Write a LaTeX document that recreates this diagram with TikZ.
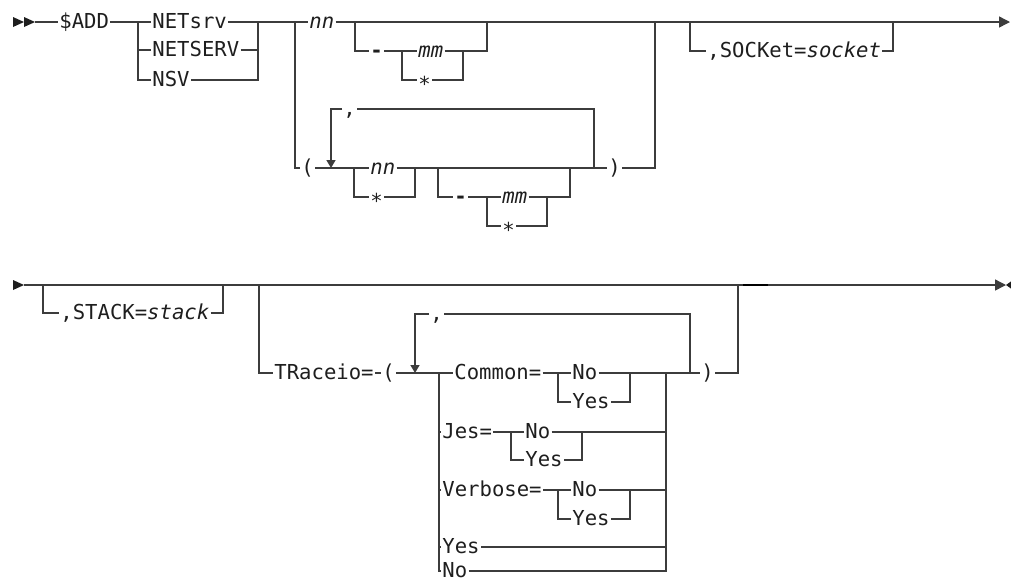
\documentclass[tikz,border=0pt]{standalone}
\usepackage{fontspec}
\setmonofont{DejaVu Sans Mono}
\usetikzlibrary{arrows.meta}
\definecolor{railGray}{HTML}{3C3C3C}
\definecolor{railText}{HTML}{1E1E1E}
\newcommand{\railfont}{\ttfamily\fontsize{10.3pt}{12pt}\selectfont}
\newcommand{\railstar}{\raisebox{-2.6pt}{*}}
\tikzset{
  rail/.style={draw=railGray, line width=0.7pt},
  railArrow/.style={rail, -{Triangle[length=4pt, width=4.5pt]}},
  railEnd/.style={rail, -{Triangle[length=5.5pt, width=5.5pt]}},
  kw/.style={anchor=west, font=\railfont, text=railText, inner xsep=0.5pt,
             inner ysep=0pt, text height=6pt, text depth=0pt},
  var/.style={kw, font=\railfont\itshape},
}

\begin{document}
\begin{tikzpicture}[x=0.5pt, y=-0.5pt]
  \useasboundingbox (0,0) rectangle (1011,580);

  % first line: $ADD NETsrv ... ,SOCKet=
  \fill[railText] (13,17) -- (24,22) -- (13,27) -- cycle;
  \fill[railText] (24,17) -- (35,22) -- (24,27) -- cycle;
  \node[kw] (add) at (58,22) {\$ADD};
  \node[kw] (netsrv) at (151,22) {NETsrv};
  \node[kw] (netserv) at (151,50) {NETSERV};
  \node[kw] (nsv) at (151,80) {NSV};
  \node[var] (nn) at (308,22) {nn};
  \node[kw] (dash) at (369,51) {\textbf{-}};
  \node[var] (mm) at (417,51) {mm};
  \node[kw] (star) at (417,80) {\railstar};
  \node[kw] (lparen) at (300,168) {(};
  \node[kw] (comma) at (342,109) {,};
  \node[var] (nnb) at (369,168) {nn};
  \node[kw] (starb) at (369,197) {\railstar};
  \node[kw] (dashb) at (453,197) {\textbf{-}};
  \node[var] (mmb) at (501,197) {mm};
  \node[kw] (starc) at (501,226) {\railstar};
  \node[kw] (rparen) at (607,168) {)};
  \node[kw] (socket) at (706,51) {,SOCKet=\textit{socket}};

  \draw[rail] (35,22) -- (add.west);
  \draw[rail] (add.east) -- (netsrv.west);
  \draw[rail] (138,22) |- (nsv.west);
  \draw[rail] (138,50) -- (netserv.west);
  \draw[rail] (netserv.east) -| (258,22);
  \draw[rail] (nsv.east) -| (258,50);
  \draw[rail] (netsrv.east) -- (nn.west);
  \draw[railEnd] (nn.east) -- (1010,22);
  \draw[rail] (355,22) |- (dash.west);
  \draw[rail] (dash.east) -- (mm.west);
  \draw[rail] (402,51) |- (star.west);
  \draw[rail] (mm.east) -| (487,22);
  \draw[rail] (star.east) -| (463,51);
  \draw[rail] (295,22) |- (lparen.west);
  \draw[rail] (lparen.east) -- (nnb.west);
  \draw[rail] (354,168) |- (starb.west);
  \draw[rail] (starb.east) -| (415,168);
  \draw[rail] (nnb.east) -- (rparen.west);
  \draw[rail] (438,168) |- (dashb.west);
  \draw[rail] (dashb.east) -- (mmb.west);
  \draw[rail] (487,197) |- (starc.west);
  \draw[rail] (mmb.east) -| (570,168);
  \draw[rail] (starc.east) -| (547,197);
  \draw[rail] (594,168) |- (comma.east);
  \draw[railArrow] (comma.west) -| (331,168);
  \draw[rail] (rparen.east) -| (655,22);
  \draw[rail] (690,22) |- (socket.west);
  \draw[rail] (socket.east) -| (893,22);

  % second line: ,STACK= and TRaceio=
  \fill[railText] (13,280) -- (24,285) -- (13,290) -- cycle;
  \node[kw] (stack) at (59,313) {,STACK=\textit{stack}};
  \node[kw] (traceio) at (273,373) {TRaceio=};
  \node[kw] (tlparen) at (381,373) {(};
  \node[kw] (tcomma) at (429,314) {,};
  \node[kw] (common) at (453,373) {Common=};
  \node[kw] (cno) at (571,373) {No};
  \node[kw] (cyes) at (571,402) {Yes};
  \node[kw] (jes) at (441,432) {Jes=};
  \node[kw] (jno) at (524,432) {No};
  \node[kw] (jyes) at (524,460) {Yes};
  \node[kw] (verbose) at (441,490) {Verbose=};
  \node[kw] (vno) at (571,490) {No};
  \node[kw] (vyes) at (571,519) {Yes};
  \node[kw] (tyes) at (441,547) {Yes};
  \node[kw] (tno) at (441,571) {No};
  \node[kw] (trparen) at (700,373) {)};

  \draw[railEnd] (24,285) -- (1006,285);
  \fill[railText] (1013,280) -- (1006,285) -- (1013,290) -- cycle;
  \draw[black, line width=1.2pt] (743,285) -- (768,285);
  \draw[rail] (43,285) |- (stack.west);
  \draw[rail] (stack.east) -| (223,285);
  \draw[rail] (259,285) |- (traceio.west);
  \draw[rail] (traceio.east) -- (tlparen.west);
  \draw[rail] (tlparen.east) -- (common.west);
  \draw[rail] (439,373) |- (tno.west);
  \draw[rail] (439,432) -- (jes.west);
  \draw[rail] (439,490) -- (verbose.west);
  \draw[rail] (439,547) -- (tyes.west);
  \draw[rail] (common.east) -- (cno.west);
  \draw[rail] (558,373) |- (cyes.west);
  \draw[rail] (cno.east) -- (trparen.west);
  \draw[rail] (cyes.east) -| (630,373);
  \draw[rail] (jes.east) -- (jno.west);
  \draw[rail] (511,432) |- (jyes.west);
  \draw[rail] (jno.east) -- (666,432);
  \draw[rail] (jyes.east) -| (582,432);
  \draw[rail] (verbose.east) -- (vno.west);
  \draw[rail] (558,490) |- (vyes.west);
  \draw[rail] (vno.east) -- (666,490);
  \draw[rail] (vyes.east) -| (630,490);
  \draw[rail] (tyes.east) -- (666,547);
  \draw[rail] (tno.east) -| (666,373);
  \draw[rail] (690,373) |- (tcomma.east);
  \draw[railArrow] (tcomma.west) -| (415,373);
  \draw[rail] (trparen.east) -| (738,285);
\end{tikzpicture}
\end{document}
